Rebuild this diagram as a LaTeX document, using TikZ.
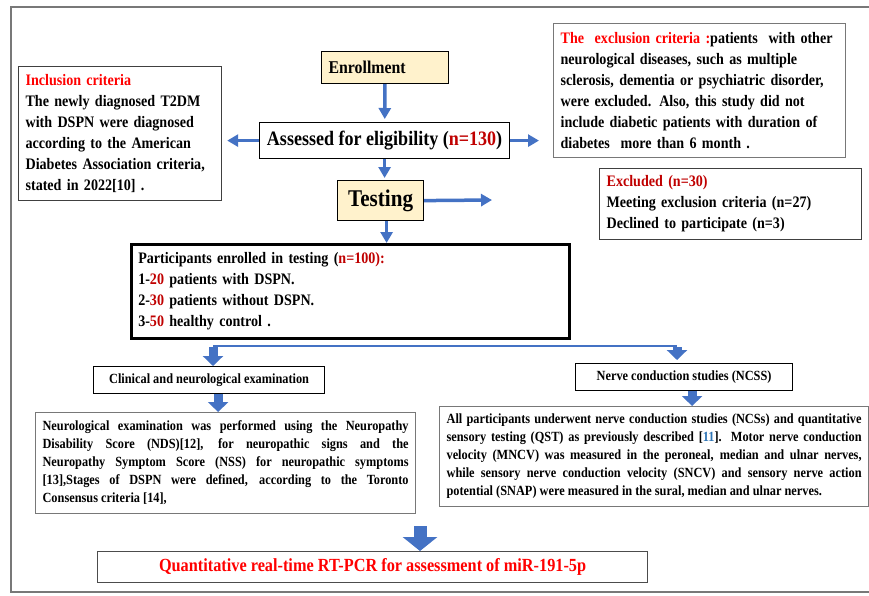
\documentclass[tikz,border=0pt]{standalone}
\usepackage{fontspec}
\setmainfont{Liberation Serif}[FakeStretch=0.88]
\usepackage{xcolor}
\usetikzlibrary{arrows.meta}
\definecolor{myblue}{RGB}{68,114,196}
\definecolor{myred}{RGB}{255,0,0}
\definecolor{mydarkred}{RGB}{192,0,0}
\definecolor{myyellow}{RGB}{255,242,204}
\definecolor{mygray}{RGB}{120,120,120}
\definecolor{mycite}{RGB}{46,117,182}
\hyphenpenalty=10000
\exhyphenpenalty=10000

\tikzset{
  box/.style={draw=black, line width=1.2pt, fill=white, anchor=north west, inner xsep=7pt, inner ysep=3pt, align=left, font=\bfseries\fontsize{16}{21}\selectfont},
  greybox/.style={box, draw=mygray},
  yellowbox/.style={box, fill=myyellow},
  smallbox/.style={box, align=center, font=\bfseries\fontsize{14}{18}\selectfont},
  parbox/.style={greybox, align=justify, font=\bfseries\fontsize{14}{18}\selectfont},
  arr/.style={myblue, line width=3.5pt, -{Triangle[width=12pt,length=11pt]}},
  fatarr/.style={myblue, line width=9pt, -{Triangle[width=20pt,length=10pt]}},
  bigarr/.style={myblue, line width=13pt, -{Triangle[width=34pt,length=14pt]}},
}

\begin{document}
\begin{tikzpicture}[x=1pt,y=-1pt]
\useasboundingbox (0,0) rectangle (869,595);

\draw[mygray, line width=1.5pt] (869,7) -- (11,7) -- (11,592) -- (869,592);

\node[yellowbox, text width=113, minimum height=32, font=\bfseries\fontsize{18}{22}\selectfont] (enroll) at (321,51) {Enrollment};
\node[box, minimum width=250, minimum height=36, align=center, font=\bfseries\fontsize{20.5}{24}\selectfont] (assess) at (259,122) {Assessed for eligibility (\textcolor{mydarkred}{n=130})};
\node[greybox, draw=black!75, text width=189, minimum height=134] (incl) at (18,66) {\textcolor{myred}{Inclusion criteria}\\
The newly diagnosed T2DM\\
with DSPN were diagnosed\\
according to the American\\
Diabetes Association criteria,\\
stated in 2022[10] .};
\node[greybox, text width=278, minimum height=134] (excl) at (553,23) {\textcolor{myred}{The\ \ exclusion criteria :}patients\ \ with other\\
neurological diseases, such as multiple\\
sclerosis, dementia or psychiatric disorder,\\
were excluded. Also, this study did not\\
include diabetic patients with duration of\\
diabetes\ \ more than 6 month .};
\node[yellowbox, minimum width=86, minimum height=40, align=center, font=\bfseries\fontsize{24}{28}\selectfont] (testing) at (337,180) {Testing};
\node[greybox, draw=black!75, text width=248, minimum height=71] (excluded) at (599,168) {\textcolor{mydarkred}{Excluded (n=30)}\\
Meeting exclusion criteria (n=27)\\
Declined to participate (n=3)};
\node[box, line width=2.5pt, text width=424, minimum height=94] (partic) at (130,243) {Participants enrolled in testing (\textcolor{mydarkred}{n=100):}\\
1-\textcolor{mydarkred}{20} patients with DSPN.\\
2-\textcolor{mydarkred}{30} patients without DSPN.\\
3-\textcolor{mydarkred}{50} healthy control .};
\node[smallbox, minimum width=231, minimum height=27] (clinic) at (93,366) {Clinical and neurological examination};
\node[smallbox, minimum width=217, minimum height=27] (ncss) at (575,363) {Nerve conduction studies (NCSS)};
\node[parbox, text width=366, minimum height=101] (neuro) at (35,412) {Neurological examination was performed using the Neuropathy\linebreak{}
Disability Score (NDS)[12], for neuropathic signs and the\linebreak{}
Neuropathy Symptom Score (NSS) for neuropathic symptoms\linebreak{}
[13],Stages of DSPN were defined, according to the Toronto\linebreak{}
Consensus criteria [14],};
\node[parbox, text width=415, minimum height=100] (ncs) at (439,406) {All participants underwent nerve conduction studies (NCSs) and quantitative\linebreak{}
sensory testing (QST) as previously described [\textcolor{mycite}{11}]. Motor nerve conduction\linebreak{}
velocity (MNCV) was measured in the peroneal, median and ulnar nerves,\linebreak{}
while sensory nerve conduction velocity (SNCV) and sensory nerve action\linebreak{}
potential (SNAP) were measured in the sural, median and ulnar nerves.};
\node[greybox, draw=black!70, minimum width=550, minimum height=31, align=center, font=\bfseries\fontsize{18.5}{22}\selectfont] (qpcr) at (97,551) {\textcolor{myred}{Quantitative real-time RT-PCR for assessment of miR-191-5p}};

\coordinate (testingEnd) at (492,200);
\coordinate (testingOut) at ([xshift=6]testing.south);
\coordinate (clinicOut) at ([xshift=9]clinic.south);
\coordinate (ncssOut) at ([xshift=8]ncss.south);
\coordinate (forkL) at (213,346);
\coordinate (forkR) at (677,346);
\coordinate (pcrTop) at (420,526);

\draw[arr, shorten >=3pt] (enroll) -- (assess);
\draw[arr, shorten >=5pt] (assess.west) -- (assess.west -| incl.east);
\draw[arr, shorten >=14pt] (assess.east) -- (assess.east -| excl.west);
\draw[arr, shorten >=2pt] (assess.south) -- (testing.north -| assess.south);
\draw[arr] (testing.east) -- (testingEnd);
\draw[arr] (testingOut) -- (partic.north -| testingOut);
\draw[myblue, line width=2.5pt] (forkL) -- (forkR);
\draw[fatarr] ([yshift=-1]forkL) -- (clinic.north -| forkL);
\draw[fatarr, shorten >=3pt] ([yshift=-1]forkR) -- (ncss.north -| forkR);
\draw[fatarr] (clinicOut) -- (neuro.north -| clinicOut);
\draw[fatarr] (ncssOut) -- (ncs.north -| ncssOut);
\draw[bigarr] (pcrTop) -- (qpcr.north -| pcrTop);
\end{tikzpicture}
\end{document}
